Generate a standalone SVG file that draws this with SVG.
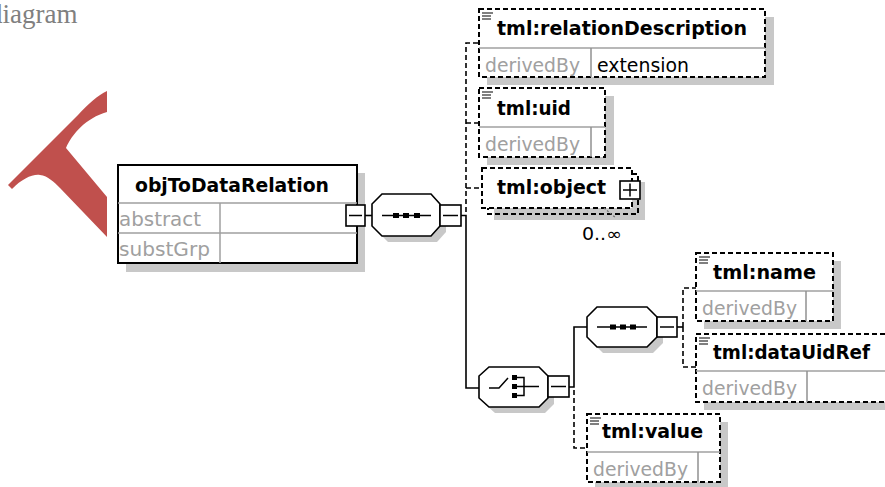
<svg xmlns="http://www.w3.org/2000/svg" width="885" height="487" viewBox="0 0 885 487">
  <style>
    .shadow { fill: #c8c8c8; }
    .box { fill: #fff; stroke: #000; stroke-width: 2; }
    .opt { fill: #fff; stroke: #000; stroke-width: 2; stroke-dasharray: 5 3; }
    .optline { fill: none; stroke: #000; stroke-width: 2; stroke-dasharray: 5 3; }
    .div { stroke: #a0a0a0; stroke-width: 1.5; fill: none; }
    .col { stroke: #909090; stroke-width: 1.5; fill: none; }
    .title { font-family: "DejaVu Sans", "Liberation Sans", sans-serif; font-weight: bold; font-size: 19px; fill: #000; }
    .prop { font-family: "DejaVu Sans", "Liberation Sans", sans-serif; font-size: 19px; fill: #a0a0a0; }
    .val { font-family: "DejaVu Sans", "Liberation Sans", sans-serif; font-size: 19px; fill: #000; }
    .card { font-family: "DejaVu Sans", "Liberation Sans", sans-serif; font-size: 17px; fill: #000; }
    .wire { fill: none; stroke: #000; stroke-width: 1.6; }
    .wire-opt { fill: none; stroke: #000; stroke-width: 1.6; stroke-dasharray: 5 3; }
    .btn { fill: #fff; stroke: #000; stroke-width: 1.6; }
    .glyph { fill: none; stroke: #000; stroke-width: 1.5; }
    .comp { fill: #fff; stroke: #000; stroke-width: 1.6; }
    .dot { fill: #000; }
    .icon { fill: none; stroke: #000; stroke-width: 1.2; }
  </style>
  <defs>
    <!-- simple-content marker drawn in the top-left corner of element boxes -->
    <g id="textIcon">
      <path class="icon" d="M3,4 H14 M3,7 H12 M3,10 H12"/>
    </g>
  </defs>

  <!-- page caption -->
  <text x="-11" y="23" font-family="Liberation Serif, serif" font-size="27" fill="#808080">diagram</text>

  <!-- red decoration -->
  <path d="M107,91 C98,95 88,104 78,115 L8,185 L12,189 C22,179 32,174 40,175 C48,176 54,182 60,188 L107,237 L107,197 L66,148 C72,134 86,118 107,112 Z" fill="#c0504d"/>

  <!-- connectors -->
  <g id="connectors">
    <path class="wire" d="M365,215.5 H372"/>
    <path class="wire" d="M461,215.5 H466 V388 H479"/>
    <path class="wire-opt" d="M466,212 V43 H479"/>
    <path class="wire-opt" d="M466,123 H479"/>
    <path class="wire-opt" d="M466,188 H482"/>
    <path class="wire" d="M569,387 H574 V327 H587"/>
    <path class="wire-opt" d="M574,390 V448 H587"/>
    <path class="wire" d="M677,327 H683"/>
    <path class="wire-opt" d="M683,327 V288 H696"/>
    <path class="wire-opt" d="M683,327 V367 H696"/>
  </g>

  <!-- root element -->
  <g id="objToDataRelation">
    <rect class="shadow" x="126" y="173" width="239" height="99"/>
    <rect class="box" x="118" y="165" width="239" height="98"/>
    <path class="div" d="M118,203 H357 M118,233 H357 M220,203 V263"/>
    <text class="title" x="135" y="192" textLength="194" lengthAdjust="spacingAndGlyphs">objToDataRelation</text>
    <text class="prop" x="119" y="226" textLength="82" lengthAdjust="spacingAndGlyphs">abstract</text>
    <text class="prop" x="119" y="256" textLength="91" lengthAdjust="spacingAndGlyphs">substGrp</text>
    <rect class="btn" x="346" y="205" width="19" height="21"/>
    <path class="glyph" d="M349,215.5 H362"/>
  </g>

  <!-- sequence under the root -->
  <g id="sequence1">
    <polygon class="shadow" points="388,200 437,200 446,210 446,232 437,242 388,242 378,232 378,210"/>
    <polygon class="comp" points="382,194 431,194 440,204 440,226 431,236 382,236 372,226 372,204"/>
    <path class="glyph" d="M382,215.5 H431"/>
    <rect class="dot" x="393" y="213" width="6" height="5"/>
    <rect class="dot" x="403" y="213" width="6" height="5"/>
    <rect class="dot" x="414" y="213" width="6" height="5"/>
    <rect class="btn" x="440" y="205" width="21" height="21"/>
    <path class="glyph" d="M443,215.5 H458"/>
  </g>

  <g id="relationDescription">
    <rect class="shadow" x="487" y="17" width="287" height="68"/>
    <rect class="opt" x="479" y="9" width="286" height="68"/>
    <use href="#textIcon" x="479" y="9"/>
    <path class="div" d="M479,48 H765"/>
    <path class="col" d="M591,48 V77"/>
    <text class="title" x="497" y="35" textLength="250" lengthAdjust="spacingAndGlyphs">tml:relationDescription</text>
    <text class="prop" x="485" y="72" textLength="95" lengthAdjust="spacingAndGlyphs">derivedBy</text>
    <text class="val" x="597" y="72" textLength="92" lengthAdjust="spacingAndGlyphs">extension</text>
  </g>

  <g id="uid">
    <rect class="shadow" x="487" y="96" width="127" height="69"/>
    <rect class="opt" x="479" y="88" width="126" height="69"/>
    <use href="#textIcon" x="479" y="88"/>
    <path class="div" d="M479,127 H605"/>
    <path class="col" d="M591,127 V157"/>
    <text class="title" x="497" y="115" textLength="74" lengthAdjust="spacingAndGlyphs">tml:uid</text>
    <text class="prop" x="485" y="151" textLength="95" lengthAdjust="spacingAndGlyphs">derivedBy</text>
  </g>

  <g id="object">
    <rect class="shadow" x="494" y="182" width="151" height="38"/>
    <path class="optline" d="M632,174 H638 V214 H488 V208" fill="#fff"/>
    <rect class="opt" x="482" y="168" width="150" height="40"/>
    <text class="title" x="497" y="194" textLength="109" lengthAdjust="spacingAndGlyphs">tml:object</text>
    <rect class="btn" x="620" y="181" width="20" height="18"/>
    <path class="glyph" d="M623,190 H637 M630,183.5 V196.5"/>
    <path d="M604,208 L616,218" fill="none" stroke="#707070" stroke-width="1.2" stroke-dasharray="2 2"/>
    <text class="card" x="582" y="240" textLength="40" lengthAdjust="spacingAndGlyphs">0..∞</text>
  </g>

  <!-- choice compositor -->
  <g id="choice">
    <polygon class="shadow" points="495,373 545,373 554,382 554,404 545,413 495,413 485,404 485,382"/>
    <polygon class="comp" points="489,367 539,367 548,376 548,398 539,407 489,407 479,398 479,376"/>
    <path class="glyph" d="M489,388 H499 L508,378"/>
    <rect class="dot" x="512" y="375" width="5" height="5"/>
    <rect class="dot" x="512" y="384" width="5" height="5"/>
    <rect class="dot" x="512" y="393" width="5" height="5"/>
    <path class="glyph" d="M517,377.5 H524 V395.5 H517 M517,386.5 H539"/>
    <rect class="btn" x="548" y="376" width="21" height="21"/>
    <path class="glyph" d="M551,386.5 H566"/>
  </g>

  <!-- sequence inside the choice -->
  <g id="sequence2">
    <polygon class="shadow" points="603,313 653,313 663,323 663,343 653,353 603,353 593,343 593,323"/>
    <polygon class="comp" points="597,307 647,307 657,317 657,337 647,347 597,347 587,337 587,317"/>
    <path class="glyph" d="M597,327 H647"/>
    <rect class="dot" x="610" y="324.5" width="6" height="5"/>
    <rect class="dot" x="620" y="324.5" width="6" height="5"/>
    <rect class="dot" x="630" y="324.5" width="6" height="5"/>
    <rect class="btn" x="657" y="317" width="20" height="20"/>
    <path class="glyph" d="M660,327 H674"/>
  </g>

  <g id="name">
    <rect class="shadow" x="704" y="261" width="137" height="68"/>
    <rect class="opt" x="696" y="253" width="137" height="68"/>
    <use href="#textIcon" x="696" y="253"/>
    <path class="div" d="M696,291 H833"/>
    <path class="col" d="M806,291 V321"/>
    <text class="title" x="713" y="279" textLength="103" lengthAdjust="spacingAndGlyphs">tml:name</text>
    <text class="prop" x="702" y="315" textLength="95" lengthAdjust="spacingAndGlyphs">derivedBy</text>
  </g>

  <g id="dataUidRef">
    <rect class="shadow" x="704" y="342" width="200" height="68"/>
    <rect class="opt" x="696" y="334" width="200" height="68"/>
    <use href="#textIcon" x="696" y="334"/>
    <path class="div" d="M696,371 H896"/>
    <path class="col" d="M807,371 V402"/>
    <text class="title" x="713" y="359" textLength="157" lengthAdjust="spacingAndGlyphs">tml:dataUidRef</text>
    <text class="prop" x="702" y="395" textLength="95" lengthAdjust="spacingAndGlyphs">derivedBy</text>
  </g>

  <g id="value">
    <rect class="shadow" x="595" y="422" width="133" height="68"/>
    <rect class="opt" x="587" y="414" width="133" height="68"/>
    <use href="#textIcon" x="587" y="414"/>
    <path class="div" d="M587,452 H720"/>
    <path class="col" d="M698,452 V482"/>
    <text class="title" x="602" y="438" textLength="101" lengthAdjust="spacingAndGlyphs">tml:value</text>
    <text class="prop" x="593" y="476" textLength="95" lengthAdjust="spacingAndGlyphs">derivedBy</text>
  </g>
</svg>
